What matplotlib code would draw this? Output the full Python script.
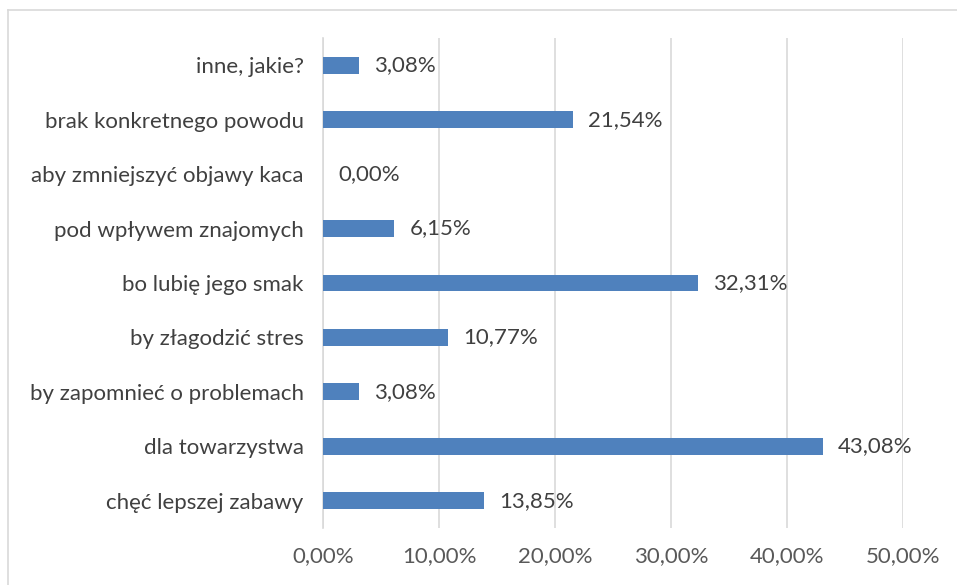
import matplotlib.pyplot as plt
from matplotlib.lines import Line2D

# data (bottom to top)
categories = ["chęć lepszej zabawy", "dla towarzystwa", "by zapomnieć o problemach",
              "by złagodzić stres", "bo lubię jego smak", "pod wpływem znajomych",
              "aby zmniejszyć objawy kaca", "brak konkretnego powodu", "inne, jakie?"]
values = [13.85, 43.08, 3.08, 10.77, 32.31, 6.15, 0.00, 21.54, 3.08]
ticks = [0, 10, 20, 30, 40, 50]

plt.rcParams['font.family'] = ['Lato', 'DejaVu Sans']
txt = "#595959"
fs = 16

fig = plt.figure(figsize=(9.57, 5.85), dpi=100)
ax = fig.add_axes([323/957, 1-528/585, 580/957, 490/585])

ypos = list(range(len(categories)))
ax.barh(ypos, values, height=0.31, color="#4f81bd", zorder=3)

for y, v in zip(ypos, values):
    ax.text(v + 1.3, y, f"{v:.2f}%".replace(".", ","), va="center", ha="left",
            fontsize=fs, color="#404040")

ax.set_xlim(0, 50)
ax.set_ylim(-0.5, len(categories) - 0.5)
ax.set_yticks(ypos)
ax.set_yticklabels(categories, fontsize=fs, color="#404040")
ax.set_xticks(ticks)
ax.set_xticklabels([f"{t:.2f}%".replace(".", ",") for t in ticks], fontsize=fs, color=txt)
ax.tick_params(length=0, axis="y", pad=14)
ax.tick_params(length=0, axis="x", pad=13)
ax.grid(axis="x", color="#d9d9d9", linewidth=1.2, zorder=0)
for s in ["top", "right", "bottom"]:
    ax.spines[s].set_visible(False)
ax.spines["left"].set_color("#d9d9d9")
ax.spines["left"].set_linewidth(1.2)

# outer chart border
fig.add_artist(Line2D([8/957, 1], [1-10/585, 1-10/585], color="#d9d9d9", lw=1.2))
fig.add_artist(Line2D([8/957, 8/957], [0, 1-10/585], color="#d9d9d9", lw=1.2))

fig.savefig("out.png", dpi=100)
